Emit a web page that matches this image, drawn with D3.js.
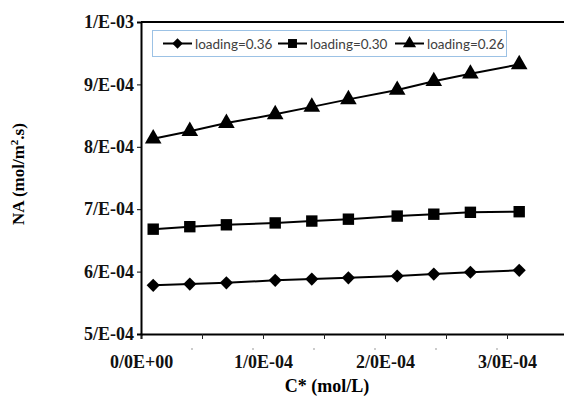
<!DOCTYPE html>
<html><head><meta charset="utf-8">
<script src="https://cdn.jsdelivr.net/npm/d3@7"></script>
<style>body{margin:0;background:#fff}svg{display:block}
.serifb{font-family:"Liberation Serif","Times New Roman",serif !important;font-weight:700 !important;}
.leg{font-family:Lato,"Open Sans",sans-serif;}
</style>
</head><body>
<script>
const concentrations = [1.0e-5, 4.0e-5, 7.0e-5, 1.1e-4, 1.4e-4, 1.7e-4, 2.1e-4, 2.4e-4, 2.7e-4, 3.1e-4];
const seriesNames = ["loading=0.36", "loading=0.30", "loading=0.26"];
const loading036 = [5.78e-4, 5.80e-4, 5.82e-4, 5.86e-4, 5.88e-4, 5.90e-4, 5.93e-4, 5.96e-4, 5.99e-4, 6.02e-4];
const loading030 = [6.68e-4, 6.72e-4, 6.75e-4, 6.78e-4, 6.81e-4, 6.84e-4, 6.89e-4, 6.92e-4, 6.95e-4, 6.96e-4];
const loading026 = [8.13e-4, 8.25e-4, 8.38e-4, 8.52e-4, 8.64e-4, 8.76e-4, 8.91e-4, 9.05e-4, 9.17e-4, 9.32e-4];
const xTicks = [0, 0.5e-4, 1e-4, 1.5e-4, 2e-4, 2.5e-4, 3e-4];
const xTickLabels = ["0/0E+00", "", "1/0E-04", "", "2/0E-04", "", "3/0E-04"];
const yTicks = [5e-4, 6e-4, 7e-4, 8e-4, 9e-4, 1e-3];
const yTickLabels = ["5/E-04", "6/E-04", "7/E-04", "8/E-04", "9/E-04", "1/E-03"];
const markers = ["diamond", "square", "triangle"];

const W = 564, H = 412;
const svg = d3.select("body").append("svg").attr("width", W).attr("height", H);
const x = d3.scaleLinear().domain([0, 3.5e-4]).range([141, 568]);
const y = d3.scaleLinear().domain([5e-4, 1e-3]).range([334, 22]);
const data = [loading036, loading030, loading026];

// top frame line
svg.append("line").attr("x1", x(0)).attr("x2", x(3.5e-4)).attr("y1", y(1e-3)).attr("y2", y(1e-3))
  .attr("stroke", "#000").attr("stroke-width", 2);

// x axis
const xa = svg.append("g").attr("transform", `translate(0,${y(5e-4)})`)
  .call(d3.axisBottom(x).tickValues(xTicks).tickSize(5).tickPadding(16)
    .tickFormat((d, i) => xTickLabels[i]));
xa.select(".domain").attr("stroke-width", 2);
xa.selectAll(".tick line").attr("stroke", "#222");
xa.selectAll("text").attr("class", "serifb").style("font-size", "18px").attr("fill", "#111");
// faint secondary marks
svg.append("g").selectAll("line").data(xTicks.slice(1)).join("line")
  .attr("x1", d => x(d) - 11).attr("x2", d => x(d) - 9).attr("y1", 349).attr("y2", 349)
  .attr("stroke", "#999").attr("stroke-width", 1);

// y axis
const ya = svg.append("g").attr("transform", `translate(${x(0)},0)`)
  .call(d3.axisLeft(y).tickValues(yTicks).tickSize(4).tickPadding(3)
    .tickFormat((d, i) => yTickLabels[i]));
ya.select(".domain").attr("stroke-width", 2);
ya.selectAll("text").attr("class", "serifb").style("font-size", "18px").attr("fill", "#111");

// series
const line = d3.line().x((d, i) => x(concentrations[i])).y(d => y(d));
const sym = {
  diamond: d3.symbol().type(d3.symbolDiamond2).size(110),
  square: d3.symbol().type(d3.symbolSquare).size(130),
  triangle: d3.symbol().type(d3.symbolTriangle).size(120)
};
data.forEach((vals, s) => {
  svg.append("path").datum(vals).attr("d", line).attr("fill", "none").attr("stroke", "#000").attr("stroke-width", 2);
  svg.append("g").selectAll("path").data(vals).join("path")
    .attr("d", sym[markers[s]])
    .attr("transform", (d, i) => `translate(${x(concentrations[i])},${y(d)})`)
    .attr("fill", "#000");
});

// legend
const lg = svg.append("g");
lg.append("rect").attr("x", 152.5).attr("y", 30.5).attr("width", 354).attr("height", 26)
  .attr("fill", "#fff").attr("stroke", "#9cc2e5").attr("stroke-width", 1);
const legendX = [163, 278, 395];
seriesNames.forEach((n, s) => {
  const g = lg.append("g").attr("transform", `translate(${legendX[s]},43.5)`);
  g.append("line").attr("x1", 0).attr("x2", 29).attr("stroke", "#000").attr("stroke-width", 2);
  g.append("path").attr("d", d3.symbol().type([d3.symbolDiamond2, d3.symbolSquare, d3.symbolTriangle][s]).size([70, 80, 75][s])())
    .attr("transform", "translate(14.5,0)").attr("fill", "#000");
  g.append("text").attr("class", "leg").attr("x", 32).attr("y", 5).text(n)
    .style("font-size", "13.5px").attr("fill", "#404040");
});

// axis titles
svg.append("text").attr("class", "serifb").attr("x", 327).attr("y", 392).attr("text-anchor", "middle")
  .style("font-size", "18px").text("C* (mol/L)");
const yt = svg.append("text").attr("class", "serifb").attr("transform", "translate(24,174) rotate(-90)").attr("text-anchor", "middle")
  .style("font-size", "17px");
yt.append("tspan").text("NA (mol/m");
yt.append("tspan").attr("dy", -6).style("font-size", "11px").text("2");
yt.append("tspan").attr("dy", 6).text(".s)");
</script>
</body></html>
